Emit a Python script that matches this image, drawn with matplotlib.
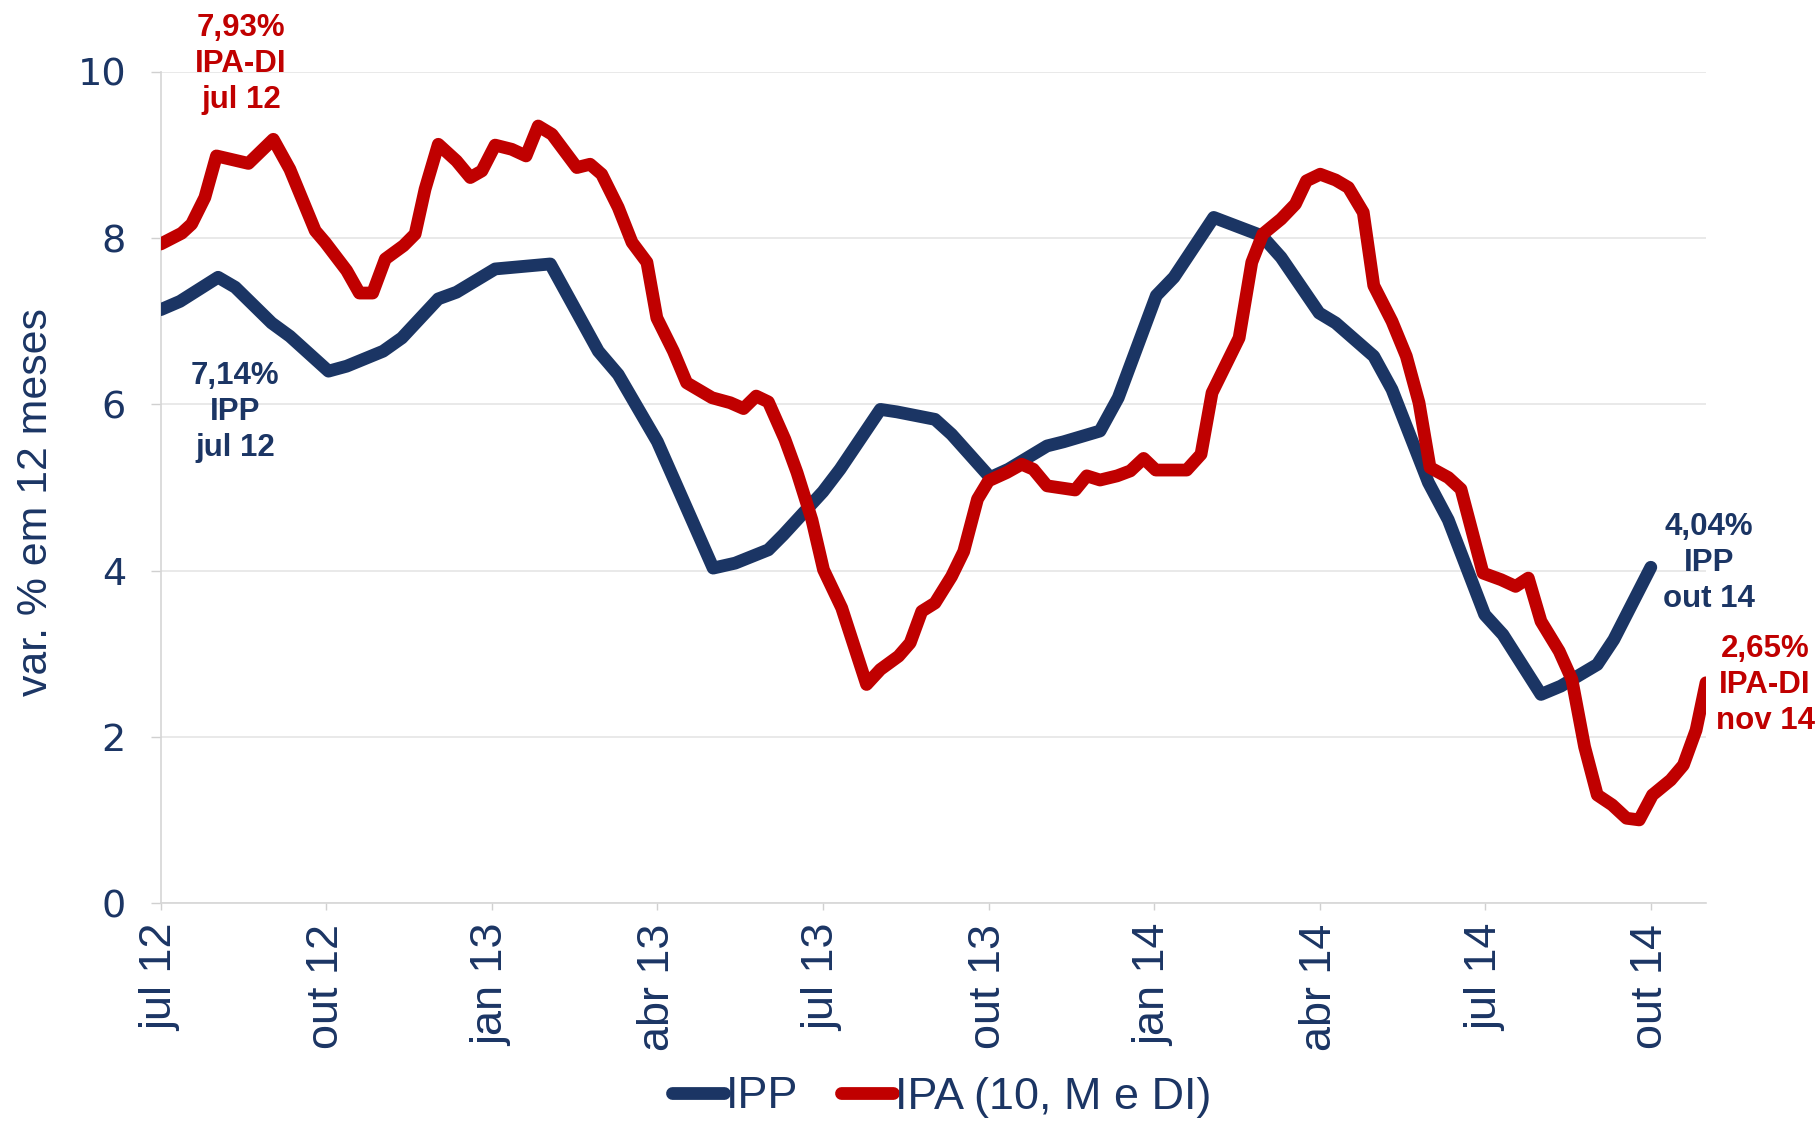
import matplotlib
matplotlib.use("Agg")
import matplotlib.pyplot as plt
from matplotlib import font_manager as fm

# ---------------- data (months since jul 12) ----------------
ipp_t = [0.00, 0.35, 1.04, 1.35, 2.01, 2.34, 3.04, 3.37, 4.03, 4.37, 5.03, 5.36,
         6.06, 7.06, 7.93, 8.29, 9.00, 10.01, 10.41, 11.01, 11.28, 12.00, 12.31,
         13.04, 13.34, 14.03, 14.33, 15.03, 15.36, 16.06, 16.36, 17.02, 17.35,
         18.04, 18.36, 19.08, 19.95, 20.30, 20.99, 21.29, 21.98, 22.31, 22.97,
         23.33, 23.99, 24.32, 25.01, 25.37, 26.03, 26.33, 27.00]
ipp_v = [7.14, 7.24, 7.53, 7.41, 6.98, 6.82, 6.40, 6.46, 6.64, 6.80, 7.27, 7.35,
         7.63, 7.69, 6.64, 6.36, 5.55, 4.03, 4.09, 4.25, 4.43, 4.95, 5.22,
         5.94, 5.91, 5.82, 5.64, 5.12, 5.22, 5.50, 5.55, 5.68, 6.08,
         7.31, 7.53, 8.25, 8.03, 7.77, 7.10, 6.98, 6.58, 6.18, 5.06,
         4.61, 3.47, 3.23, 2.51, 2.61, 2.87, 3.17, 4.04]

ipa_t = [0.00, 0.38, 0.56, 0.80, 1.01, 1.59, 2.04, 2.34, 2.80, 2.98, 3.37, 3.60,
         3.84, 4.07, 4.40, 4.61, 4.79, 5.03, 5.36, 5.61, 5.82, 6.06, 6.36, 6.62,
         6.84, 7.09, 7.54, 7.78, 7.99, 8.29, 8.54, 8.81, 8.99, 9.29, 9.53, 9.99,
         10.32, 10.56, 10.79, 11.01, 11.31, 11.53, 11.80, 12.01, 12.34, 12.79,
         13.04, 13.37, 13.58, 13.79, 14.03, 14.33, 14.55, 14.80, 15.00, 15.33,
         15.60, 15.81, 16.06, 16.57, 16.78, 17.02, 17.33, 17.57, 17.81, 18.03,
         18.59, 18.85, 19.05, 19.54, 19.77, 19.97, 20.30, 20.56, 20.76, 21.01,
         21.29, 21.52, 21.79, 21.98, 22.31, 22.57, 22.80, 23.00, 23.33, 23.56,
         23.96, 24.29, 24.55, 24.78, 25.01, 25.34, 25.57, 25.80, 26.03, 26.30,
         26.56, 26.79, 27.03, 27.36, 27.59, 27.82, 28.00]
ipa_v = [7.93, 8.06, 8.17, 8.49, 8.99, 8.90, 9.19, 8.83, 8.09, 7.95, 7.61, 7.34,
         7.34, 7.75, 7.91, 8.05, 8.59, 9.13, 8.93, 8.73, 8.81, 9.12, 9.07, 8.99,
         9.35, 9.25, 8.85, 8.89, 8.77, 8.37, 7.95, 7.71, 7.04, 6.64, 6.26, 6.08,
         6.02, 5.95, 6.10, 6.03, 5.58, 5.18, 4.61, 4.01, 3.55, 2.63,
         2.81, 2.97, 3.13, 3.51, 3.61, 3.93, 4.23, 4.86, 5.08, 5.18,
         5.28, 5.22, 5.02, 4.97, 5.14, 5.09, 5.14, 5.20, 5.35, 5.21,
         5.21, 5.40, 6.14, 6.80, 7.71, 8.05, 8.23, 8.41, 8.69, 8.77,
         8.70, 8.61, 8.31, 7.43, 7.00, 6.58, 6.02, 5.24, 5.12, 4.98,
         3.97, 3.89, 3.81, 3.91, 3.39, 3.03, 2.69, 1.88, 1.30, 1.18,
         1.02, 1.00, 1.30, 1.48, 1.66, 2.08, 2.65]

tick_pos = [0, 3, 6, 9, 12, 15, 18, 21, 24, 27]
tick_labels = ["jul 12", "out 12", "jan 13", "abr 13", "jul 13", "out 13",
               "jan 14", "abr 14", "jul 14", "out 14"]
yticks = [0, 2, 4, 6, 8, 10]

series_names = ["IPP", "IPA (10, M e DI)"]
ipp_first_lbl = "jul 12"
ipp_last_lbl = "out 14"
ipa_first_lbl = "jul 12"
ipa_last_lbl = "nov 14"

# ---------------- style ----------------
navy = "#1B3564"
red = "#C00000"
grid_c = "#E3E3E3"

names = {f.name for f in fm.fontManager.ttflist}
if "Liberation Sans Narrow" in names:
    narrow, nscale = "Liberation Sans Narrow", 1.0
else:
    narrow, nscale = "Liberation Sans", 0.82

plt.rcParams["font.family"] = ["Liberation Sans", "DejaVu Sans"]

fig = plt.figure(figsize=(18.2, 11.21), dpi=100)
ax = fig.add_axes([160.7 / 1820, 1 - 903 / 1121, (1706 - 160.7) / 1820, (903 - 72) / 1121])

lw = 9.2
ax.plot(ipp_t, ipp_v, color=navy, lw=lw, solid_capstyle="round",
        solid_joinstyle="round", label=series_names[0], zorder=3)
ax.plot(ipa_t, ipa_v, color=red, lw=lw, solid_capstyle="round",
        solid_joinstyle="round", label=series_names[1], zorder=4)

ax.set_xlim(0, 28)
ax.set_ylim(0, 10)
ax.set_yticks(yticks)
ax.set_yticklabels([str(v) for v in yticks], fontfamily="DejaVu Sans",
                   fontsize=27.5, color=navy)
ax.set_xticks(tick_pos)
ax.set_xticklabels(tick_labels, rotation=90, fontfamily=narrow,
                   fontsize=39.5 * nscale, color=navy)
ax.tick_params(axis="y", direction="out", length=7, width=1, color="#D0D0D0", pad=18)
ax.tick_params(axis="x", direction="out", length=5, width=1, color="#D0D0D0", pad=10)

for s in ["top", "right"]:
    ax.spines[s].set_visible(False)
for s in ["left", "bottom"]:
    ax.spines[s].set_color("#D6D6D6")
    ax.spines[s].set_linewidth(1.2)
ax.yaxis.grid(True, color=grid_c, lw=1.1, zorder=0)
ax.set_axisbelow(True)

fig.text(36 / 1820, 1 - 502 / 1121, "var. % em 12 meses", rotation=90,
         ha="center", va="center", fontfamily=narrow, fontsize=37.5 * nscale,
         color=navy)

def pct(v):
    return f"{v:.2f}".replace(".", ",") + "%"

ann = dict(ha="center", va="center", multialignment="center",
           fontweight="bold", fontsize=22.5, linespacing=1.25)
fig.text(241 / 1820, 1 - 64 / 1121, f"{pct(ipa_v[0])}\nIPA-DI\n{ipa_first_lbl}",
         color=red, **ann)
fig.text(235 / 1820, 1 - 412 / 1121, f"{pct(ipp_v[0])}\nIPP\n{ipp_first_lbl}",
         color=navy, **ann)
fig.text(1709 / 1820, 1 - 563 / 1121, f"{pct(ipp_v[-1])}\nIPP\n{ipp_last_lbl}",
         color=navy, **ann)
fig.text(1765 / 1820, 1 - 685 / 1121, f"{pct(ipa_v[-1])}\nIPA-DI\n{ipa_last_lbl}",
         color=red, **ann)

leg = fig.legend(loc="center", bbox_to_anchor=(942 / 1820, 1 - 1097 / 1121),
                 ncol=2, frameon=False, handlelength=1.15, handletextpad=0.05,
                 columnspacing=0.95, borderaxespad=0,
                 prop={"family": narrow, "size": 39.5 * nscale})
for t in leg.get_texts():
    t.set_color(navy)

fig.savefig("out.png", dpi=100)
